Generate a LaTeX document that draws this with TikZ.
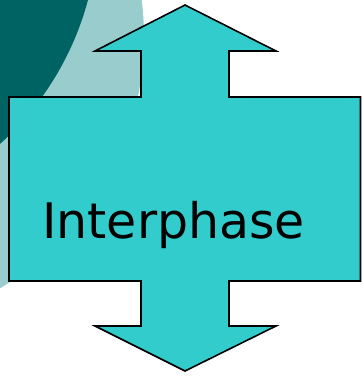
\documentclass[tikz,border=0pt]{standalone}
\usepackage{fontspec}
\setmainfont{DejaVu Sans}
\definecolor{deepteal}{RGB}{0,99,99}
\definecolor{paleteal}{RGB}{153,204,204}
\definecolor{arrowcyan}{RGB}{51,204,204}
\begin{document}
\begin{tikzpicture}[x=1pt,y=-1pt,
  updown/.style={fill=arrowcyan,draw=black,line width=1.6pt,line join=miter},
  label/.style={font=\fontsize{49}{58}\selectfont,inner sep=0pt,anchor=base west}]
\useasboundingbox (0,0) rectangle (362,376);
% decorative background discs in the top-left corner
\begin{scope}
  \clip (0,0) rectangle (362,376);
  \fill[paleteal] (-147,37) circle[radius=291];
  \fill[deepteal] (-200,-77) circle[radius=298];
\end{scope}
% double-headed block arrow with a wide body
\draw[updown] (185,5) -- (276,51) -- (229,51) -- (229,97) -- (360.5,97)
  -- (360.5,281) -- (229,281) -- (229,326) -- (276,326) -- (185,371)
  -- (95,326) -- (141,326) -- (141,281) -- (9,281) -- (9,97)
  -- (141,97) -- (141,51) -- (95,51) -- cycle;
\node[label] (phase) at (42,238) {Interphase};
\end{tikzpicture}
\end{document}
